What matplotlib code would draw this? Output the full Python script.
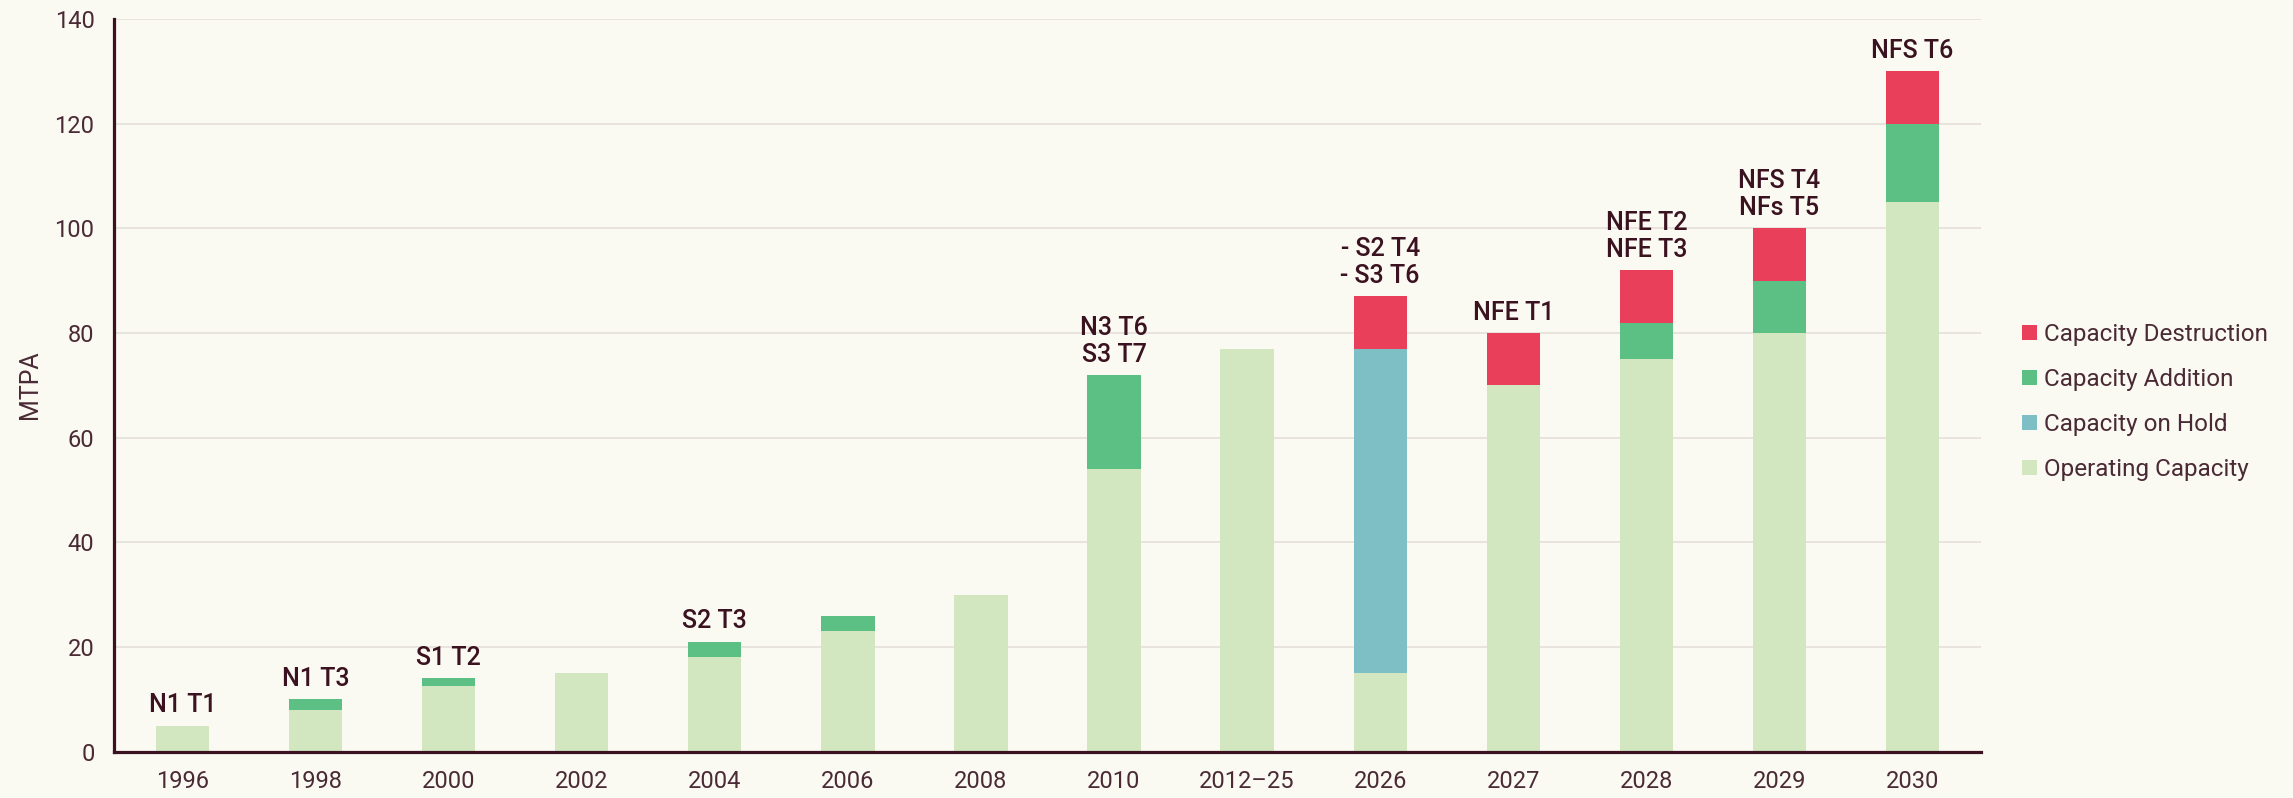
import matplotlib
matplotlib.use("Agg")
import matplotlib.pyplot as plt
import numpy as np

categories = ["1996", "1998", "2000", "2002", "2004", "2006", "2008", "2010",
              "2012–25", "2026", "2027", "2028", "2029", "2030"]
operating = [5, 8, 12.5, 15, 18, 23, 30, 54, 77, 15, 70, 75, 80, 105]
on_hold = [0, 0, 0, 0, 0, 0, 0, 0, 0, 62, 0, 0, 0, 0]
addition = [0, 2, 1.5, 0, 3, 3, 0, 18, 0, 0, 0, 7, 10, 15]
destruction = [0, 0, 0, 0, 0, 0, 0, 0, 0, 10, 10, 10, 10, 10]
bar_labels = ["N1 T1", "N1 T3", "S1 T2", "", "S2 T3", "", "", "N3 T6\nS3 T7",
              "", "- S2 T4\n- S3 T6", "NFE T1", "NFE T2\nNFE T3",
              "NFS T4\nNFs T5", "NFS T6"]
yticks = [0, 20, 40, 60, 80, 100, 120, 140]

BG = "#FAF9F2"
C_OP = "#D2E7BF"
C_HOLD = "#7EBEC5"
C_ADD = "#5CBF84"
C_DES = "#EA3F5B"
DARK = "#3A1220"
TXT = "#4A2A35"

plt.rcParams["font.family"] = ["Roboto", "DejaVu Sans"]

fig = plt.figure(figsize=(22.93, 7.98), dpi=100, facecolor=BG)
ax = fig.add_axes([114/2293, 1-751.7/798, (1981-114)/2293, (751.7-19)/798])
ax.set_facecolor(BG)

x = np.arange(len(categories))
w = 0.4
op = np.array(operating, dtype=float)
hold = np.array(on_hold, dtype=float)
add = np.array(addition, dtype=float)
des = np.array(destruction, dtype=float)

ax.bar(x, op, w, color=C_OP, label="Operating Capacity", zorder=3)
ax.bar(x, hold, w, bottom=op, color=C_HOLD, label="Capacity on Hold", zorder=3)
ax.bar(x, add, w, bottom=op+hold, color=C_ADD, label="Capacity Addition", zorder=3)
ax.bar(x, des, w, bottom=op+hold+add, color=C_DES, label="Capacity Destruction", zorder=3)

tot = op + hold + add + des
for xi, t, lab in zip(x, tot, bar_labels):
    if lab:
        ax.annotate(lab, (xi, t), xytext=(0, 6), textcoords="offset points",
                    ha="center", va="bottom", fontsize=18, color=DARK,
                    fontweight="medium", linespacing=1.15)

ax.set_xlim(-0.515, len(categories) - 0.485)
ax.set_ylim(0, 140)
ax.set_yticks(yticks)
ax.set_xticks(x)
ax.set_xticklabels(categories)
ax.tick_params(axis="both", length=0, labelsize=17, labelcolor=TXT)
ax.tick_params(axis="x", pad=13)
ax.tick_params(axis="y", pad=14)
ax.yaxis.grid(True, color="#E8E3DD", linewidth=1.4, zorder=0)
ax.set_axisbelow(True)
for s in ["top", "right"]:
    ax.spines[s].set_visible(False)
for s in ["left", "bottom"]:
    ax.spines[s].set_color(DARK)
    ax.spines[s].set_linewidth(2.3)
    ax.spines[s].set_zorder(4)

fig.text(30/2293, 1-385/798, "MTPA", rotation=90, ha="center", va="center",
         fontsize=18, color=TXT)

handles, labels = ax.get_legend_handles_labels()
order = [3, 2, 1, 0]
leg = fig.legend([handles[i] for i in order], [labels[i] for i in order],
                 loc="center left", bbox_to_anchor=(2022/2293, 1-402/798),
                 frameon=False, fontsize=17.5, labelcolor=TXT,
                 handlelength=0.6, handleheight=0.6, handletextpad=0.3,
                 labelspacing=0.9, borderpad=0, borderaxespad=0)

fig.savefig("out.png", dpi=100, facecolor=BG)
